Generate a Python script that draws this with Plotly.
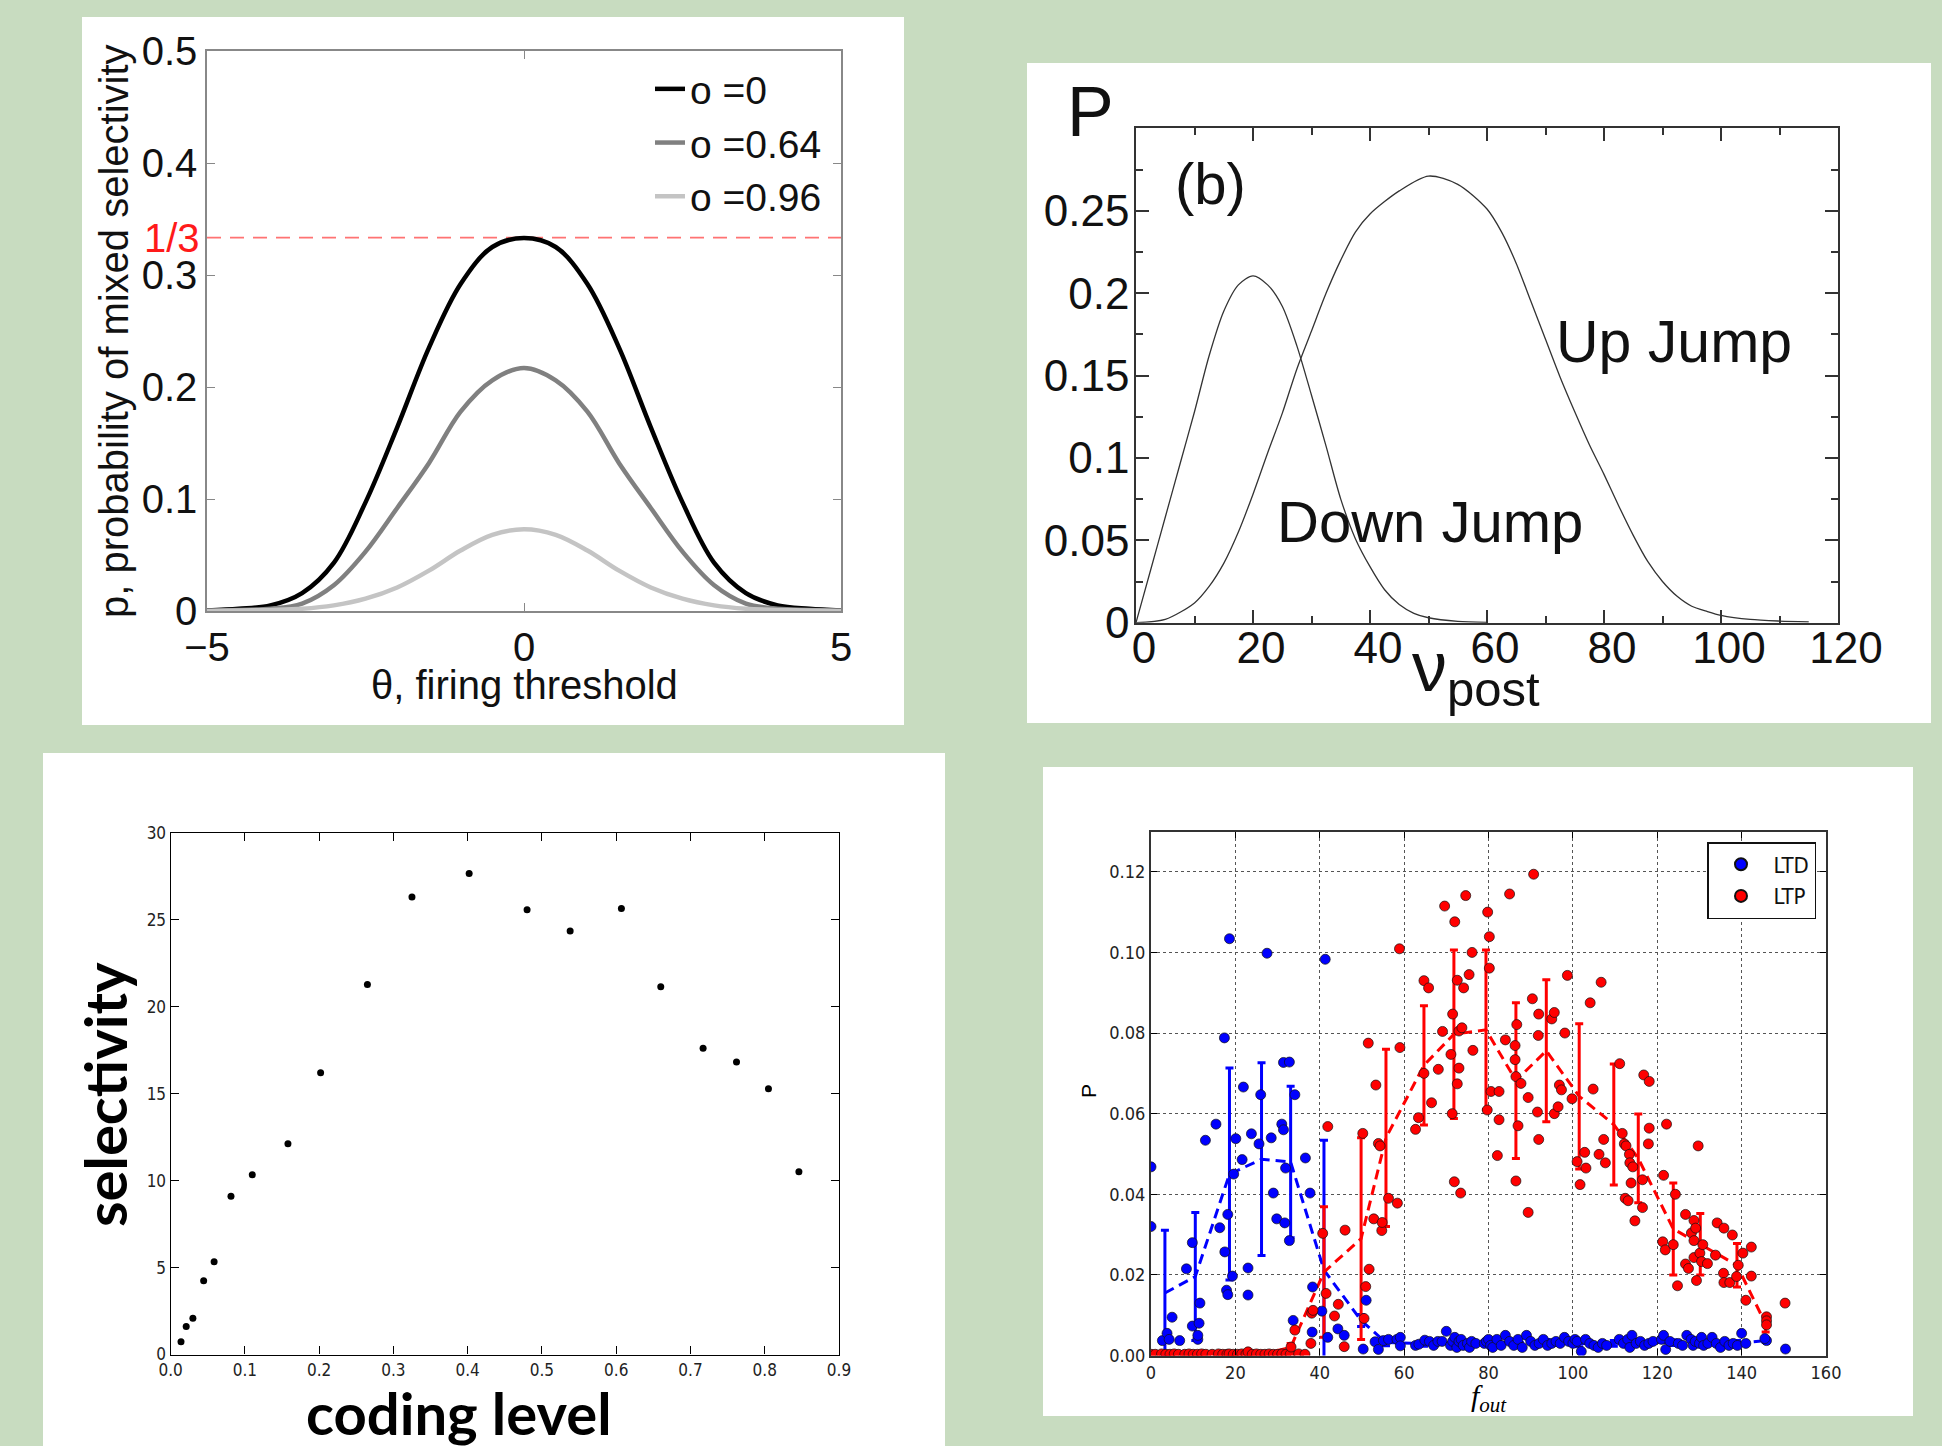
import plotly.graph_objects as go

W, H = 1942, 1446
BG = "#c8dcc0"

# ---------------- Panel 1 data ----------------
theta = [-5, -4.5, -4, -3.5, -3, -2.5, -2, -1.5, -1, -0.5, 0, 0.5, 1, 1.5, 2, 2.5, 3, 3.5, 4, 4.5, 5]
p_o0 = [0.0005, 0.002, 0.005, 0.016, 0.043, 0.097, 0.164, 0.235, 0.292, 0.325, 0.333,
        0.325, 0.292, 0.235, 0.164, 0.097, 0.043, 0.016, 0.005, 0.002, 0.0005]
p_o064 = [0.0003, 0.001, 0.002, 0.0066, 0.023, 0.053, 0.092, 0.132, 0.178, 0.206, 0.217,
          0.206, 0.178, 0.132, 0.092, 0.053, 0.023, 0.0066, 0.002, 0.001, 0.0003]
p_o096 = [0.0001, 0.0005, 0.001, 0.002, 0.005, 0.011, 0.021, 0.036, 0.054, 0.068, 0.073,
          0.068, 0.054, 0.036, 0.021, 0.011, 0.005, 0.002, 0.001, 0.0005, 0.0001]
one_third_x = [-5, 5]
one_third_y = [1 / 3, 1 / 3]
p1_xticks = [-5, 0, 5]
p1_xticktext = ["\u22125", "0", "5"]
p1_yticks = [0, 0.1, 0.2, 0.3, 0.4, 0.5]
p1_yticktext = ["0", "0.1", "0.2", "0.3", "0.4", "0.5"]

# ---------------- Panel 2 data ----------------
nu_down = [0, 2.5, 5, 7.5, 10, 12.5, 15, 17.5, 20, 22.5, 25, 27.5, 30, 32.5, 35, 37.5, 40,
           42.5, 45, 47.5, 50, 55, 60]
p_down = [0, 0.032, 0.064, 0.096, 0.128, 0.162, 0.189, 0.205, 0.2105, 0.205, 0.192, 0.168,
          0.138, 0.107, 0.075, 0.051, 0.034, 0.02, 0.011, 0.0057, 0.003, 0.0008, 0.0002]
nu_up = [0, 5, 10, 12.5, 15, 17.5, 20, 22.5, 25, 27.5, 30, 32.5, 35, 37.5, 40, 45, 50, 55,
         60, 62.5, 65, 67.5, 70, 72.5, 75, 77.5, 80, 82.5, 85, 87.5, 90, 92.5, 95, 97.5,
         100, 105, 110, 115]
p_up = [0, 0.002, 0.012, 0.022, 0.036, 0.055, 0.078, 0.103, 0.127, 0.154, 0.177, 0.2, 0.22,
        0.237, 0.248, 0.262, 0.271, 0.266, 0.251, 0.237, 0.218, 0.195, 0.172, 0.149, 0.128,
        0.108, 0.09, 0.071, 0.053, 0.037, 0.025, 0.016, 0.01, 0.007, 0.0045, 0.002, 0.001,
        0.0005]
p2_yticks = [0, 0.05, 0.1, 0.15, 0.2, 0.25]
p2_yticktext = ["0", "0.05", "0.1", "0.15", "0.2", "0.25"]

# ---------------- Panel 3 data ----------------
coding_level = [0.014, 0.021, 0.030, 0.0445, 0.0586, 0.0813, 0.110, 0.158, 0.202, 0.265,
                0.325, 0.402, 0.480, 0.538, 0.607, 0.660, 0.717, 0.762, 0.805, 0.846]
selectivity = [0.74, 1.61, 2.09, 4.24, 5.34, 9.11, 10.34, 12.13, 16.21, 21.29,
               26.32, 27.67, 25.58, 24.36, 25.66, 21.16, 17.62, 16.82, 15.29, 10.52]

# ---------------- Panel 4 data ----------------
ltd_f = [0, 0, 2.7, 3.8, 4.3, 5.0, 6.8, 8.4, 9.8, 9.8, 11.1, 11.6, 11.4, 11.1, 12.9, 15.4,
         16.3, 17.4, 17.5, 17.9, 18.2, 18.2, 18.6, 19.3, 19.6, 20.1, 21.6, 21.9, 23.0, 23.0,
         23.8, 25.6, 26.0, 27.5, 28.5, 29.0, 29.8, 31.0, 31.4, 31.4, 31.7, 32.8, 32.8, 31.9,
         33.7, 34.1, 36.6, 37.7, 38.3, 38.2, 40.5, 41.3, 41.9, 44.3, 45.8, 51.0, 50.3,
         53.1, 53.9, 55.1, 56.3, 58.3, 59.1, 59.1, 62.7, 63.5, 64.9,
         66, 67, 68, 69, 70, 71, 71.5, 72, 72.5, 73, 73.5, 74, 75, 75.5, 76, 77,
         79, 79.5, 80, 80.5, 81, 82, 83, 84, 85, 86, 87, 88, 89, 90, 91, 92, 93, 94, 95, 96,
         97, 98, 99, 100, 100.5, 101, 102, 103, 104, 105, 106, 107, 108,
         111, 112, 113, 113.5, 114, 115, 116, 117, 118, 119, 121, 121.5, 122, 123, 125, 126,
         127, 128, 128.5, 129, 130, 130.5, 131, 132, 133, 134, 135, 136, 137, 138, 139, 140,
         141, 145.9, 145.5, 150.4]
ltd_p = [0.0468, 0.032, 0.0037, 0.0055, 0.004, 0.0095, 0.0037, 0.0215, 0.028, 0.0073, 0.004,
         0.013, 0.008, 0.005, 0.0534, 0.0574, 0.0317, 0.0788, 0.0257, 0.0162, 0.0151, 0.035,
         0.1034, 0.0197, 0.045, 0.0538, 0.0486, 0.0666, 0.0217, 0.015, 0.055, 0.0525, 0.0647,
         0.0998, 0.054, 0.0403, 0.0339, 0.0574, 0.056, 0.0727, 0.0329, 0.0728, 0.0285, 0.0465,
         0.0087, 0.0647, 0.049, 0.0403, 0.017, 0.0058, 0.011, 0.0983, 0.0045, 0.0066, 0.005,
         0.0137, 0.0016,
         0.0034, 0.0015, 0.0037, 0.004, 0.004, 0.0045, 0.0024, 0.0025, 0.0028, 0.0038,
         0.0035, 0.0025, 0.0035, 0.0035, 0.006, 0.0025, 0.0035, 0.0045, 0.002, 0.0035, 0.004,
         0.0025, 0.003, 0.002, 0.0035, 0.003,
         0.003, 0.0035, 0.004, 0.0025, 0.002, 0.004, 0.0025, 0.005, 0.0035, 0.0025, 0.004,
         0.002, 0.005, 0.0035, 0.0025, 0.003, 0.004, 0.0025, 0.003, 0.0035, 0.003, 0.0045,
         0.0035, 0.003, 0.004, 0.0035, 0.001, 0.004, 0.003, 0.0025, 0.002, 0.003, 0.0025,
         0.004, 0.003, 0.004, 0.002, 0.005, 0.003, 0.0035, 0.0025, 0.003, 0.0035, 0.004,
         0.005, 0.0015, 0.0035, 0.003, 0.0025, 0.005, 0.004, 0.0025, 0.0035, 0.003, 0.0045,
         0.0025, 0.003, 0.0045, 0.003, 0.002, 0.0035, 0.0025, 0.003, 0.0025, 0.0055, 0.003,
         0.0037, 0.0042, 0.0016]

ltp_f = [0, 1, 2.5, 3.5, 4.5, 5.5, 6.5, 8, 9, 10, 11, 12, 13, 14.5, 16, 17, 18, 18.5, 19.5,
         20.5, 21.5, 22.5, 23, 24, 25, 26, 27, 28, 29, 30, 31, 32, 33, 35, 36.5,
         33.2, 34.1, 37.9, 38.1, 38.4, 40.7, 41.5, 41.9, 43.5, 44.4, 45.8, 46.0, 50.2, 50.9,
         50.5, 51.7, 51.5, 52.8, 53.3, 53.9, 54.3, 54.7, 54.8, 56.3, 58.4, 59.0, 62.7, 63.4,
         58.9, 64.7, 65.8, 66.5, 64.7, 68.1, 69.1, 69.6, 71.1, 71.4, 71.5, 72.0, 72.6, 72.6,
         73.0, 73.0, 73.7, 74.1, 74.6, 75.4, 76.1, 76.3, 71.9, 73.4,
         79.8, 80.2, 80.2, 79.7, 80.6, 82.5, 82.5, 82.1, 84.0, 85.0, 86.3, 86.3, 86.7, 86.5,
         87.7, 87.0, 86.5, 89.4, 89.4, 90.4, 90.7, 91.6, 91.8, 91.9, 91.9, 95.0, 95.6, 95.6,
         96.5, 96.8, 97.3, 98.1, 98.7, 99.8, 101.0, 101.7, 102.8, 103.1, 104.1, 104.8, 106.7,
         106.2, 107.3, 107.7, 111.1, 111.7, 112.2, 112.6, 112.4, 113.1, 113.4, 113.5, 113.8,
         114.2, 114.7, 116.5, 116.5, 116.8, 118.1, 117.9, 118.1, 121.5, 121.3, 121.9, 122.2,
         123.8, 124.3, 124.8, 126.7, 126.7, 127.4, 128.1, 128.7, 128.7, 128.7, 129.1, 129.3,
         129.7, 130.1, 130.5, 130.8, 131.9, 133.8, 134.2, 135.8, 135.7, 135.8, 137.2, 137.8,
         138.8, 139.2, 140.3, 141.0, 142.3, 142.3, 145.9, 145.9, 145.9, 150.3]
ltp_p = [0.0003, 0.0003, 0.0004, 0.0003, 0.0003, 0.0004, 0.0003, 0.0003, 0.0004, 0.0003,
         0.0003, 0.0004, 0.0003, 0.0003, 0.0004, 0.0003, 0.0003, 0.0004, 0.0003, 0.0003,
         0.0004, 0.0003, 0.0009, 0.0003, 0.0004, 0.0003, 0.0003, 0.0004, 0.0003, 0.0003,
         0.0004, 0.0003, 0.0003, 0.0004, 0.0003,
         0.0021, 0.0063, 0.003, 0.0105, 0.0112, 0.0303, 0.0154, 0.0568, 0.0098, 0.0127, 0.0022,
         0.0311, 0.0551, 0.0171, 0.0092, 0.0214, 0.0775, 0.0339, 0.0671, 0.0526, 0.052, 0.031,
         0.033, 0.039, 0.0378, 0.0764, 0.0561, 0.059,
         0.1009, 0.093, 0.0912, 0.0627, 0.070, 0.071, 0.0804, 0.1115, 0.0747, 0.060, 0.0847,
         0.1076, 0.0674, 0.0931, 0.0713, 0.0805, 0.0813, 0.0912, 0.1141, 0.0945, 0.1, 0.0757,
         0.0431, 0.0403,
         0.11, 0.1039, 0.0961, 0.0609, 0.0655, 0.0655, 0.0585, 0.0496, 0.0783, 0.1145, 0.0769,
         0.0734, 0.0821, 0.0692, 0.0675, 0.057, 0.0433, 0.064, 0.0355, 0.0885, 0.1194, 0.0604,
         0.0794, 0.0536, 0.0847, 0.0835, 0.0851, 0.060, 0.0617, 0.0671, 0.0659, 0.080, 0.0943,
         0.0637, 0.0481, 0.0424, 0.0504, 0.0465, 0.0875, 0.0661, 0.0926, 0.0499, 0.0536,
         0.0478, 0.0724, 0.0551, 0.0525, 0.052, 0.039, 0.0384, 0.0499, 0.0478, 0.0428, 0.0468,
         0.0334, 0.0367, 0.0436, 0.0696, 0.068, 0.0525, 0.0564, 0.0447, 0.0282, 0.0262,
         0.0574, 0.0275, 0.04, 0.0173, 0.035, 0.0227, 0.0216, 0.0304, 0.0335, 0.0285, 0.0243,
         0.0316, 0.0186, 0.052, 0.0254, 0.0233, 0.0275, 0.0228, 0.0249, 0.0329, 0.0316,
         0.0204, 0.0181, 0.0181, 0.0299, 0.0196, 0.0224, 0.0254, 0.0137, 0.0269, 0.0197,
         0.0096, 0.0086, 0.0076, 0.013]

bin_f = [3.3, 10.5, 18.6, 26.2, 33.1, 41.0, 49.8, 55.7, 64.7, 71.8, 79.4, 86.5, 93.7, 101.5,
         109.7, 115.5, 123.8, 130.2, 138.9, 145.7]
ltd_mean = [0.0155, 0.0196, 0.045, 0.0487, 0.048, 0.0212, 0.0087, 0.0032, 0.003, 0.0033,
            0.0033, 0.0032, 0.0033, 0.003, 0.003, 0.0033, 0.0032, 0.0032, 0.003, 0.0037]
ltd_err = [0.0156, 0.0159, 0.0263, 0.0239, 0.0188, 0.0322, 0.0015, 0.0008, 0.0007, 0.0008,
           0.0007, 0.0008, 0.0007, 0.0008, 0.0007, 0.0008, 0.0007, 0.0008, 0.0007, 0.0005]
ltp_mean = [0.0003, 0.0003, 0.0003, 0.0003, 0.002, 0.0207, 0.029, 0.054, 0.072, 0.0797,
            0.0808, 0.0682, 0.0756, 0.0643, 0.0573, 0.0489, 0.0314, 0.0276, 0.0224, 0.0078]
ltp_err = [0.0, 0.0, 0.0, 0.0, 0.001, 0.0162, 0.025, 0.022, 0.0148, 0.0209, 0.0198, 0.0193,
           0.0176, 0.018, 0.015, 0.011, 0.0114, 0.0076, 0.0054, 0.002]

# ---------------- figure ----------------
SANS = "Liberation Sans, Arial, sans-serif"
COND = "DejaVu Sans Condensed, Liberation Sans Narrow, Liberation Sans, sans-serif"

fig = go.Figure()

# Panel 1
fig.add_trace(go.Scatter(x=one_third_x, y=one_third_y, mode="lines", xaxis="x", yaxis="y",
                         line=dict(color="rgba(255,90,90,0.85)", width=1.8, dash="14px,9px"),
                         showlegend=False, hoverinfo="skip"))
for yy, col, nm in [(p_o0, "#000000", "o =0"), (p_o064, "#808080", "o =0.64"),
                    (p_o096, "#c4c4c4", "o =0.96")]:
    fig.add_trace(go.Scatter(x=theta, y=yy, mode="lines", name=nm, xaxis="x", yaxis="y",
                             line=dict(color=col, width=4.5, shape="spline", smoothing=1.0),
                             legend="legend"))

# Panel 2
fig.add_trace(go.Scatter(x=nu_down, y=p_down, mode="lines", xaxis="x2", yaxis="y2",
                         line=dict(color="#333333", width=1.3, shape="spline", smoothing=0.8),
                         showlegend=False))
fig.add_trace(go.Scatter(x=nu_up, y=p_up, mode="lines", xaxis="x2", yaxis="y2",
                         line=dict(color="#333333", width=1.3, shape="spline", smoothing=0.8),
                         showlegend=False))

# Panel 3
fig.add_trace(go.Scatter(x=coding_level, y=selectivity, mode="markers", xaxis="x3", yaxis="y3",
                         marker=dict(color="black", size=7), showlegend=False))

# Panel 4: binned means with error bars (dashed)
fig.add_trace(go.Scatter(x=bin_f, y=ltd_mean, mode="lines", xaxis="x4", yaxis="y4",
                         line=dict(color="#0000ff", width=3, dash="10px,6px"),
                         error_y=dict(type="data", array=ltd_err, color="#0000ff",
                                      thickness=3, width=4),
                         showlegend=False))
fig.add_trace(go.Scatter(x=bin_f, y=ltp_mean, mode="lines", xaxis="x4", yaxis="y4",
                         line=dict(color="#ff0000", width=3, dash="10px,6px"),
                         error_y=dict(type="data", array=ltp_err, color="#ff0000",
                                      thickness=3, width=4),
                         showlegend=False))
fig.add_trace(go.Scatter(x=ltd_f, y=ltd_p, mode="markers", name="LTD", xaxis="x4", yaxis="y4",
                         marker=dict(color="#0000ff", size=10, line=dict(color="#111111", width=0.7)),
                         legend="legend2"))
fig.add_trace(go.Scatter(x=ltp_f, y=ltp_p, mode="markers", name="LTP", xaxis="x4", yaxis="y4",
                         marker=dict(color="#ff0000", size=10, line=dict(color="#111111", width=0.7)),
                         legend="legend2"))


def px_x(v):
    return v / W


def px_y(v):
    return 1 - v / H


shapes = []
for (x0, y0, x1, y1) in [(82, 17, 904, 725), (1027, 63, 1931, 723),
                         (43, 753, 945, 1446), (1043, 767, 1913, 1416)]:
    shapes.append(dict(type="rect", xref="paper", yref="paper",
                       x0=px_x(x0), x1=px_x(x1), y0=px_y(y1), y1=px_y(y0),
                       fillcolor="white", line=dict(width=0), layer="below"))


def label(text, x, y, size, family=SANS, color="#111", angle=0, yanchor="middle"):
    return dict(text=text, x=px_x(x), y=px_y(y), xref="paper", yref="paper",
                xanchor="center", yanchor=yanchor, showarrow=False, textangle=angle,
                font=dict(family=family, size=size, color=color))


ann = []
# panel 1 labels
ann.append(label("\u03b8, firing threshold", 524, 685, 40))
ann.append(label("p, probability of mixed selectivity", 114, 331, 40, angle=-90))
ann.append(dict(text="1/3", x=px_x(202), xanchor="right", y=1 / 3, yanchor="middle",
                xref="paper", yref="y", showarrow=False,
                font=dict(family=SANS, size=40, color="#ff1a1a")))
# panel 2 labels
ann.append(label("P", 1090, 112, 70))
ann.append(label("(b)", 1210, 183, 58))
ann.append(label("Up Jump", 1674, 342, 59))
ann.append(label("Down Jump", 1430, 521, 58))
ann.append(label("\u03bd<sub>post</sub>", 1476, 626, 70, yanchor="top"))
# panel 3 labels
ann.append(label("<b>selectivity</b>", 104, 1095, 58, family="Lato, Open Sans, sans-serif",
                 color="#000", angle=-90))
ann.append(label("<b>coding level</b>", 459, 1412, 58, family="Lato, Open Sans, sans-serif",
                 color="#000"))
# panel 4 labels
ann.append(label("P", 1088, 1091, 21, color="#000", angle=-90))
ann.append(label("<i>f</i><sub><i>out</i></sub>", 1489, 1398, 30,
                 family="Liberation Serif, Times New Roman, serif", color="#000"))

common_off = dict(showgrid=False, zeroline=False, showline=True, mirror="ticks",
                  ticks="inside", automargin=False)

fig.update_layout(
    width=W, height=H, margin=dict(l=0, r=0, t=0, b=0, autoexpand=False),
    paper_bgcolor=BG, plot_bgcolor="white",
    shapes=shapes, annotations=ann,
    xaxis=dict(domain=[px_x(207), px_x(841)], range=[-5, 5], anchor="y",
               tickvals=p1_xticks, ticktext=p1_xticktext, ticklen=8, tickcolor="#888",
               linecolor="#888", linewidth=1.5,
               tickfont=dict(family=SANS, size=40, color="#111"), **common_off),
    yaxis=dict(domain=[px_y(611), px_y(51)], range=[0, 0.5], anchor="x",
               tickvals=p1_yticks, ticktext=p1_yticktext, ticklen=8, tickcolor="#888",
               linecolor="#888", linewidth=1.5,
               tickfont=dict(family=SANS, size=40, color="#111"), **common_off),
    xaxis2=dict(domain=[px_x(1136), px_x(1838)], range=[0, 120], anchor="y2", dtick=20,
                ticklen=13, tickwidth=1.5, tickcolor="#333", linecolor="#333", linewidth=1.5,
                ticklabelstandoff=-14, ticklabelshift=8,
                minor=dict(dtick=10, ticks="inside", ticklen=7, tickwidth=1.5, tickcolor="#333"),
                tickfont=dict(family=SANS, size=44, color="#111"), **common_off),
    yaxis2=dict(domain=[px_y(622.7), px_y(128.3)], range=[0, 0.3], anchor="x2",
                tickvals=p2_yticks, ticktext=p2_yticktext, ticklabelstandoff=-4,
                ticklen=13, tickwidth=1.5, tickcolor="#333", linecolor="#333", linewidth=1.5,
                minor=dict(dtick=0.025, ticks="inside", ticklen=7, tickwidth=1.5,
                           tickcolor="#333"),
                tickfont=dict(family=SANS, size=44, color="#111"), **common_off),
    xaxis3=dict(domain=[px_x(170.6), px_x(839)], range=[0, 0.9], anchor="y3", dtick=0.1,
                tickformat=".1f", ticklen=8, tickcolor="#000", linecolor="#000", linewidth=1.2,
                tickfont=dict(family=COND, size=17, color="#222"), **common_off),
    yaxis3=dict(domain=[px_y(1354.5), px_y(833)], range=[0, 30], anchor="x3", dtick=5,
                ticklen=8, tickcolor="#000", linecolor="#000", linewidth=1.2,
                tickfont=dict(family=COND, size=17, color="#222"), **common_off),
    xaxis4=dict(domain=[px_x(1151), px_x(1826)], range=[0, 160], anchor="y4", dtick=20,
                ticklen=6, tickcolor="#000", linecolor="#333", linewidth=2.2,
                showgrid=True, gridcolor="#555", griddash="dot", gridwidth=1,
                zeroline=False, showline=True, mirror="ticks", ticks="inside", automargin=False,
                tickfont=dict(family=COND, size=18, color="#222")),
    yaxis4=dict(domain=[px_y(1355.5), px_y(831.5)], range=[0, 0.13], anchor="x4", dtick=0.02,
                tickformat=".2f", ticklen=6, tickcolor="#000", linecolor="#333", linewidth=2.2,
                showgrid=True, gridcolor="#555", griddash="dot", gridwidth=1,
                zeroline=False, showline=True, mirror="ticks", ticks="inside", automargin=False,
                tickfont=dict(family=COND, size=18, color="#222")),
    legend=dict(x=px_x(827), xanchor="right", y=px_y(57), yanchor="top",
                bgcolor="rgba(0,0,0,0)", borderwidth=0,
                font=dict(family=SANS, size=39, color="#111"), tracegroupgap=0),
    legend2=dict(x=px_x(1816), xanchor="right", y=px_y(842), yanchor="top",
                 bgcolor="white", bordercolor="#111", borderwidth=1.5, itemsizing="constant",
                 itemwidth=55,
                 font=dict(family=COND, size=22, color="#111")),
)

fig.write_html("out.html", config={"displayModeBar": False},
               post_script="document.body.style.margin='0';document.body.style.overflow='hidden';")
